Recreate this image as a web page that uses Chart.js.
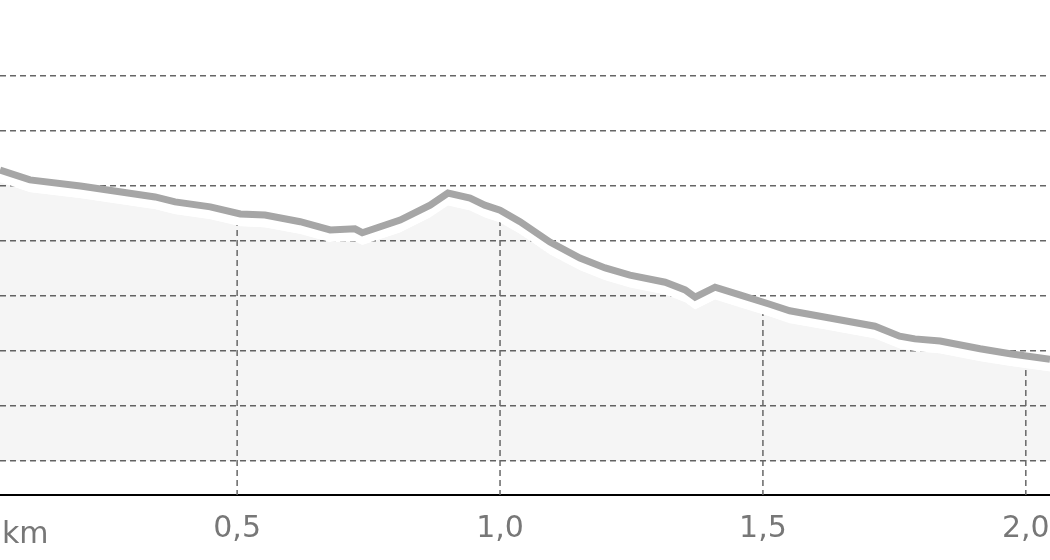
<!doctype html>
<html>
<head>
<meta charset="utf-8">
<script src="https://cdn.jsdelivr.net/npm/chart.js"></script>
<style>
  html, body { margin: 0; padding: 0; background: #fff; overflow: hidden; }
  #wrap { width: 1050px; height: 560px; }
</style>
</head>
<body>
<div id="wrap"><canvas id="c"></canvas></div>
<script>
// distance (km) and elevation (in grid steps above the lowest grid line)
const distKm = [0.049, 0.106, 0.202, 0.344, 0.382, 0.449, 0.506, 0.553, 0.620, 0.677, 0.724, 0.738,
  0.810, 0.867, 0.901, 0.943, 0.971, 1.000, 1.038, 1.095, 1.152, 1.200, 1.247, 1.314, 1.352, 1.371,
  1.409, 1.456, 1.513, 1.551, 1.627, 1.713, 1.760, 1.789, 1.837, 1.913, 1.970, 2.046];
const elevation = [5.29, 5.11, 5.00, 4.80, 4.71, 4.62, 4.49, 4.47, 4.35, 4.20, 4.22, 4.15,
  4.38, 4.65, 4.87, 4.78, 4.65, 4.56, 4.35, 3.98, 3.69, 3.51, 3.38, 3.25, 3.11, 2.98,
  3.16, 3.02, 2.85, 2.73, 2.60, 2.45, 2.27, 2.22, 2.18, 2.04, 1.95, 1.85];
const xTicks = [0.5, 1.0, 1.5, 2.0];
const yGrid = [0, 1, 2, 3, 4, 5, 6, 7];

const shadowGap = 0.22; // visual gap between line and shaded area
const linePts = distKm.map((x, i) => ({ x, y: elevation[i] }));
const fillPts = distKm.map((x, i) => ({ x, y: elevation[i] - shadowGap }));

const xGridPlugin = {
  id: 'xGrid',
  afterDatasetsDraw(chart) {
    const ctx = chart.ctx, area = chart.chartArea;
    const pts = chart.getDatasetMeta(1).data;
    ctx.save();
    ctx.beginPath();
    ctx.moveTo(pts[0].x, area.bottom);
    pts.forEach(p => ctx.lineTo(p.x, p.y));
    ctx.lineTo(pts[pts.length - 1].x, area.bottom);
    ctx.closePath();
    ctx.clip();
    ctx.strokeStyle = '#666';
    ctx.lineWidth = 1.5;
    ctx.setLineDash([6, 4]);
    xTicks.forEach(v => {
      const px = chart.scales.x.getPixelForValue(v);
      ctx.beginPath();
      ctx.moveTo(px, area.top);
      ctx.lineTo(px, area.bottom);
      ctx.stroke();
    });
    ctx.restore();
    ctx.save();
    ctx.fillStyle = '#777';
    ctx.font = '30px "DejaVu Sans"';
    ctx.textBaseline = 'middle';
    ctx.fillText('km', 2, 535);
    ctx.restore();
  }
};

new Chart(document.getElementById('c'), {
  type: 'line',
  data: {
    datasets: [
      { data: linePts, borderColor: '#a6a6a6', borderWidth: 7, pointRadius: 0, tension: 0,
        fill: '+1', backgroundColor: '#ffffff', order: 0 },
      { data: fillPts, borderWidth: 0, borderColor: 'rgba(0,0,0,0)', pointRadius: 0, tension: 0,
        fill: 'origin', backgroundColor: 'rgba(0,0,0,0.04)', order: 1 }
    ]
  },
  options: {
    responsive: true,
    maintainAspectRatio: false,
    animation: false,
    layout: { padding: 0 },
    plugins: { legend: { display: false }, tooltip: { enabled: false } },
    scales: {
      x: {
        type: 'linear',
        min: 0.049,
        max: 2.046,
        afterBuildTicks: s => { s.ticks = xTicks.map(v => ({ value: v })); },
        afterFit: s => { s.height = 65; s.paddingLeft = 0; s.paddingRight = 0; },
        grid: { display: false },
        border: { display: true, color: '#000', width: 2 },
        ticks: {
          color: '#777',
          font: { family: 'DejaVu Sans', size: 30 },
          padding: 8,
          maxRotation: 0,
          autoSkip: false,
          callback: v => v.toFixed(1).replace('.', ',')
        }
      },
      y: {
        min: -0.618,
        max: 8.38,
        afterBuildTicks: s => { s.ticks = yGrid.map(v => ({ value: v })); },
        afterFit: s => { s.width = 0; },
        ticks: { display: false },
        border: { display: false, dash: [6, 4] },
        grid: { color: '#666', lineWidth: 1.5, drawTicks: false }
      }
    }
  },
  plugins: [xGridPlugin]
});
</script>
</body>
</html>
